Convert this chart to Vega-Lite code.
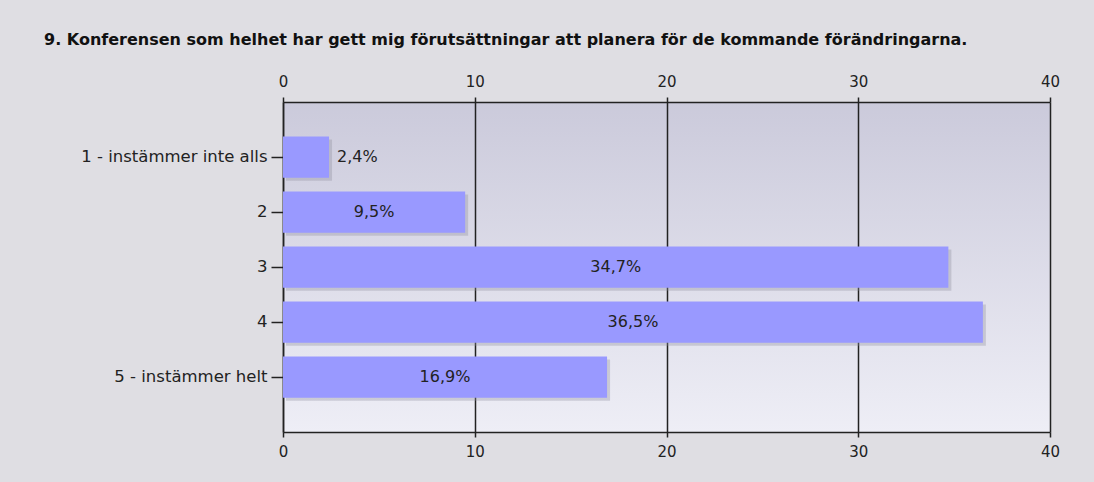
{
  "$schema": "https://vega.github.io/schema/vega-lite/v6.json",
  "autosize": {"type": "none"},
  "width": 767,
  "height": 330,
  "padding": {"left": 283, "top": 102, "right": 44, "bottom": 50},
  "background": "#dfdee3",
  "title": {
    "text": "9. Konferensen som helhet har gett mig förutsättningar att planera för de kommande förändringarna.",
    "anchor": "start",
    "frame": "group",
    "dx": -239,
    "offset": 26,
    "font": "DejaVu Sans",
    "fontSize": 16,
    "fontWeight": "bold",
    "color": "#111111"
  },
  "config": {
    "view": {
      "stroke": null,
      "fill": {
        "gradient": "linear",
        "x1": 0, "y1": 0, "x2": 0, "y2": 1,
        "stops": [
          {"offset": 0, "color": "#cbcadb"},
          {"offset": 1, "color": "#eeeef6"}
        ]
      }
    },
    "axis": {
      "labelFont": "DejaVu Sans",
      "labelFontSize": 15,
      "labelColor": "#222222",
      "domainColor": "#222222",
      "domainWidth": 1.5,
      "tickColor": "#222222",
      "tickWidth": 1.5,
      "gridColor": "#222222",
      "gridWidth": 1.5,
      "gridOpacity": 1
    }
  },
  "data": {
    "values": [
      {"answer": "1 - instämmer inte alls", "pct": 2.4, "label": "2,4%"},
      {"answer": "2", "pct": 9.5, "label": "9,5%"},
      {"answer": "3", "pct": 34.7, "label": "34,7%"},
      {"answer": "4", "pct": 36.5, "label": "36,5%"},
      {"answer": "5 - instämmer helt", "pct": 16.9, "label": "16,9%"}
    ]
  },
  "encoding": {
    "y": {
      "field": "answer",
      "type": "nominal",
      "sort": null,
      "scale": {"paddingInner": 0.25, "paddingOuter": 0.625},
      "axis": {
        "title": null,
        "tickSize": 12,
        "labelPadding": 4,
        "labelFontSize": 16.5,
        "labelLimit": 400,
        "domain": true
      }
    }
  },
  "layer": [
    {
      "mark": {"type": "bar", "color": "#8f8e9e", "opacity": 0.35, "xOffset": 3, "yOffset": 3},
      "encoding": {
        "x": {
          "field": "pct",
          "type": "quantitative",
          "scale": {"domain": [0, 40], "nice": false},
          "axis": {
            "orient": "top",
            "title": null,
            "values": [0, 10, 20, 30, 40],
            "grid": false,
            "tickSize": 5,
            "labelPadding": 8,
            "labelFlush": false
          }
        }
      }
    },
    {
      "mark": {"type": "bar", "color": "#9999ff"},
      "encoding": {
        "x": {
          "field": "pct",
          "type": "quantitative",
          "scale": {"domain": [0, 40], "nice": false},
          "axis": {
            "orient": "bottom",
            "title": null,
            "values": [0, 10, 20, 30, 40],
            "grid": true,
            "tickSize": 5,
            "labelPadding": 7,
            "labelFlush": false
          }
        }
      }
    },
    {
      "transform": [{"filter": "datum.pct >= 5"}],
      "mark": {"type": "text", "align": "center", "baseline": "middle", "font": "DejaVu Sans", "fontSize": 16, "color": "#222222"},
      "encoding": {
        "x": {
          "field": "pct",
          "type": "quantitative",
          "scale": {"domain": [0, 80], "nice": false},
          "axis": null
        },
        "text": {"field": "label"}
      }
    },
    {
      "transform": [{"filter": "datum.pct < 5"}],
      "mark": {"type": "text", "align": "left", "baseline": "middle", "dx": 8, "font": "DejaVu Sans", "fontSize": 16, "color": "#222222"},
      "encoding": {
        "x": {
          "field": "pct",
          "type": "quantitative",
          "scale": {"domain": [0, 40], "nice": false},
          "axis": null
        },
        "text": {"field": "label"}
      }
    }
  ],
  "resolve": {"scale": {"x": "independent"}, "axis": {"x": "independent"}}
}
